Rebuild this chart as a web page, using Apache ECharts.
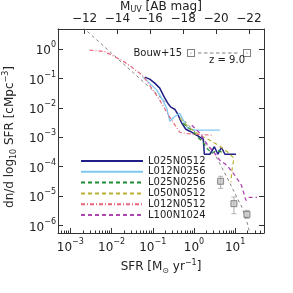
<!DOCTYPE html>
<html><head><meta charset="utf-8">
<script src="https://cdn.jsdelivr.net/npm/echarts@6/dist/echarts.min.js"></script>
<style>html,body{margin:0;padding:0;background:#fff}#c{width:293px;height:293px}</style>
</head><body><div id="c"></div>
<script>
// ---- axis ranges / ticks (log10 units) ----
const xRange = [-3.3, 1.7];          // log10 SFR
const yRange = [-6.256, 0.683];      // log10 dn/dlogSFR
const muvRange = [-22.915, -10.384]; // M_UV (top axis)
const xTickExps = [-3, -2, -1, 0, 1];
const yTickExps = [-6, -5, -4, -3, -2, -1, 0];
const muvTicks = [-12, -14, -16, -18, -20, -22];

// ---- simulation curves: log10 SFR and log10 dn/dlog10SFR ----
const L025N0512_x = [-1.195,-1.074,-0.952,-0.830,-0.733,-0.636,-0.563,-0.466,-0.393,-0.296,-0.198,-0.101,0.021,0.143,0.228,0.252,0.386,0.496,0.581,0.666,0.751,1.019];
const L025N0512_y = [-0.954,-1.022,-1.158,-1.329,-1.601,-1.840,-1.976,-2.044,-2.215,-2.521,-2.726,-2.794,-2.896,-2.998,-3.066,-3.577,-3.577,-3.322,-3.577,-3.339,-3.577,-3.577];

const L012N0256_x = [-1.244,-1.074,-0.903,-0.757,-0.660,-0.587,-0.490,-0.344,-0.247,-0.149,0.020,0.629];
const L012N0256_y = [-0.954,-1.158,-1.397,-1.738,-2.010,-2.453,-2.317,-2.181,-2.453,-2.692,-2.760,-2.760];

const L025N0256_x = [-0.271,-0.149,-0.027,0.094,0.216,0.313,0.435,0.557,0.679];
const L025N0256_y = [-2.521,-2.658,-2.794,-2.998,-3.169,-3.373,-3.543,-3.441,-3.509];

const L050N0512_x = [-0.344,-0.101,0.143,0.386,0.630,0.824,0.970,0.922,0.897];
const L050N0512_y = [-2.351,-2.692,-2.930,-3.100,-3.305,-3.509,-3.714,-4.123,-4.532];

const L012N0512_x = [-2.534,-2.169,-1.925,-1.682,-1.512,-1.317,-1.195,-1.025,-0.830,-0.587,-0.441,-0.344,-0.150,0.435];
const L012N0512_y = [-0.034,-0.085,-0.256,-0.443,-0.613,-0.818,-0.988,-1.329,-1.738,-2.317,-2.624,-2.828,-2.880,-2.930];

const L100N1024_x = [-0.052,0.143,0.337,0.483,0.630,0.800,0.994,1.153,1.226,1.262,1.335,1.530];
const L100N1024_y = [-2.590,-2.862,-3.271,-3.509,-3.782,-3.952,-4.293,-4.634,-4.975,-5.145,-5.043,-5.043];

// ---- Bouwens+15 fit (grey dashed) and data points ----
const bouwFit_x = [-2.8,-2.5,-2.0,-1.5,-1.0,-0.5,0.0,0.3,0.5,0.8,1.0,1.17,1.29,1.4];
const bouwFit_y = [0.87,0.49,-0.14,-0.77,-1.40,-2.05,-2.78,-3.25,-3.55,-4.36,-4.92,-5.40,-5.90,-6.5];
const bouwPts_x = [0.647, 0.970, 1.286];
const bouwPts_y = [-4.497, -5.258, -5.622];
const bouwPts_lo = [-4.736, -5.598, -5.758];
const bouwPts_hi = [-4.327, -5.032, -5.485];

const names = ['L025N0512','L012N0256','L025N0256','L050N0512','L012N0512','L100N1024'];
const colors = ['#1f1f85','#80c8f0','#1e8c32','#b8b032','#e86478','#b044b0'];
const dashes = ['solid','solid',[4,3],[4,3],[4,2,1,2],[4,3]];
const widths = [1.5,1.3,1.2,1.2,1.2,1.3];
const curves = [
  [L025N0512_x, L025N0512_y],[L012N0256_x, L012N0256_y],[L025N0256_x, L025N0256_y],
  [L050N0512_x, L050N0512_y],[L012N0512_x, L012N0512_y],[L100N1024_x, L100N1024_y]
];

const FONT = 'DejaVu Sans';
const TXT = '#222';
const pair = (xs, ys) => xs.map((x, i) => [x, ys[i]]);
const expStr = v => (v < 0 ? '\u2212' + (-v) : '' + v);
const pow10 = v => '{b|10}{s|' + expStr(v) + '}';
const richPow = {
  b: {fontFamily: FONT, fontSize: 12, color: TXT, lineHeight: 16, verticalAlign: 'bottom'},
  s: {fontFamily: FONT, fontSize: 8, color: TXT, lineHeight: 16, verticalAlign: 'top'}
};
const minorX = [];
for (let n = -4; n <= 1; n++) for (let k = 2; k <= 9; k++) {
  const v = n + Math.log10(k);
  if (v > xRange[0] && v < xRange[1]) minorX.push(v);
}

const axisLineStyle = {color: '#333', width: 1};
const series = [];
series.push({
  name: 'Bouw+15', type: 'line', data: pair(bouwFit_x, bouwFit_y), symbol: 'none',
  lineStyle: {color: '#808080', width: 1, type: [3, 3]}, z: 1, silent: true
});
curves.forEach((c, i) => series.push({
  name: names[i], type: 'line', data: pair(c[0], c[1]), symbol: 'none', symbolSize: 0,
  lineStyle: {color: colors[i], width: widths[i], type: dashes[i]}, z: 2 + i
}));
series.push({
  name: 'Bouw+15', type: 'custom', z: 10,
  data: bouwPts_x.map((x, i) => [x, bouwPts_lo[i], bouwPts_hi[i]]),
  renderItem: (params, api) => {
    const a = api.coord([api.value(0), api.value(1)]);
    const b = api.coord([api.value(0), api.value(2)]);
    const st = {stroke: '#b0b0b0', lineWidth: 1};
    return {type: 'group', children: [
      {type: 'line', shape: {x1: a[0], y1: a[1], x2: b[0], y2: b[1]}, style: st},
      {type: 'line', shape: {x1: a[0]-2.5, y1: a[1], x2: a[0]+2.5, y2: a[1]}, style: st},
      {type: 'line', shape: {x1: b[0]-2.5, y1: b[1], x2: b[0]+2.5, y2: b[1]}, style: st}
    ]};
  }
});
series.push({
  name: 'Bouw+15', type: 'scatter', data: pair(bouwPts_x, bouwPts_y), symbol: 'rect', symbolSize: 6,
  itemStyle: {color: '#c4c4c4', borderColor: '#707070', borderWidth: 1}, z: 11
});

const bouwIcon = 'path://M0,0H8V8H0Z M1,1V7H7V1Z M3.5,3.5H4.5V4.5H3.5Z ' +
  'M11,3.5H14.5V4.5H11Z M17,3.5H20.5V4.5H17Z M23,3.5H26.5V4.5H23Z M29,3.5H32.5V4.5H29Z ' +
  'M35,3.5H38.5V4.5H35Z M41,3.5H44.5V4.5H41Z M47,3.5H50.5V4.5H47Z ' +
  'M56,0H64V8H56Z M57,1V7H63V1Z M59.5,3.5H60.5V4.5H59.5Z';

const option = {
  animation: false,
  backgroundColor: '#fff',
  textStyle: {fontFamily: FONT},
  grid: {left: 58, right: 29, top: 29, bottom: 60, containLabel: false, outerBoundsMode: 'none'},
  title: {text: 'z = 9.0', right: 43, top: 50,
    textStyle: {fontFamily: FONT, fontSize: 10, fontWeight: 'normal', color: TXT}},
  legend: [
    {data: names, orient: 'vertical', left: 75, top: 151, itemWidth: 62, itemHeight: 8, itemGap: 0.8,
     selectedMode: false, itemStyle: {opacity: 0, borderWidth: 0},
     textStyle: {fontFamily: FONT, fontSize: 10, color: TXT, lineHeight: 10}},
    {data: [{name: 'Bouw+15', icon: bouwIcon}], align: 'right', right: 37, top: 43, itemWidth: 64, itemHeight: 8,
     selectedMode: false, itemStyle: {color: '#808080', borderWidth: 0},
     textStyle: {fontFamily: FONT, fontSize: 10, color: TXT}}
  ],
  xAxis: [
    {type: 'value', position: 'bottom', min: xRange[0], max: xRange[1],
     axisLine: {show: true, onZero: false, lineStyle: axisLineStyle}, splitLine: {show: false},
     axisTick: {show: true, inside: true, length: 5, customValues: xTickExps, lineStyle: axisLineStyle},
     axisLabel: {show: true, margin: 5, customValues: xTickExps, formatter: pow10, rich: richPow},
     name: 'SFR [M{sub|\u2299} yr{sup|\u22121}]', nameLocation: 'middle', nameGap: 26, nameMoveOverlap: false,
     nameTextStyle: {fontFamily: FONT, fontSize: 12, color: TXT, rich: {
        sub: {fontSize: 8, verticalAlign: 'bottom', lineHeight: 16, fontFamily: FONT, color: TXT},
        sup: {fontSize: 8, verticalAlign: 'top', lineHeight: 16, fontFamily: FONT, color: TXT}}}},
    {type: 'value', position: 'bottom', min: xRange[0], max: xRange[1],
     axisLine: {show: false, onZero: false}, splitLine: {show: false}, axisLabel: {show: false},
     axisTick: {show: true, inside: true, length: 2.5, customValues: minorX, lineStyle: axisLineStyle}},
    {type: 'value', position: 'top', min: muvRange[0], max: muvRange[1], inverse: true,
     axisLine: {show: true, onZero: false, lineStyle: axisLineStyle}, splitLine: {show: false},
     axisTick: {show: true, inside: true, length: 5, customValues: muvTicks, lineStyle: axisLineStyle},
     axisLabel: {show: true, margin: 4, customValues: muvTicks, formatter: v => expStr(v),
       fontFamily: FONT, fontSize: 12, color: TXT},
     name: 'M{sub|UV} [AB mag]', nameLocation: 'middle', nameGap: 15, nameMoveOverlap: false,
     nameTextStyle: {fontFamily: FONT, fontSize: 12, color: TXT, rich: {
        sub: {fontSize: 8, verticalAlign: 'bottom', lineHeight: 14, fontFamily: FONT, color: TXT}}}}
  ],
  yAxis: [
    {type: 'value', position: 'left', min: yRange[0], max: yRange[1],
     axisLine: {show: true, onZero: false, lineStyle: axisLineStyle}, splitLine: {show: false},
     axisTick: {show: true, inside: true, length: 5, customValues: yTickExps, lineStyle: axisLineStyle},
     axisLabel: {show: true, margin: 2, customValues: yTickExps, formatter: pow10, rich: richPow},
     name: 'dn/d log{sub|10} SFR [cMpc{sup|\u22123}]', nameLocation: 'middle', nameGap: 40, nameRotate: 90,
     nameMoveOverlap: false,
     nameTextStyle: {fontFamily: FONT, fontSize: 12, color: TXT, padding: [0, 12, 0, 0], rich: {
        sub: {fontSize: 8, verticalAlign: 'bottom', lineHeight: 16, fontFamily: FONT, color: TXT},
        sup: {fontSize: 8, verticalAlign: 'top', lineHeight: 16, fontFamily: FONT, color: TXT}}}},
    {type: 'value', position: 'right', min: yRange[0], max: yRange[1],
     axisLine: {show: true, onZero: false, lineStyle: axisLineStyle}, splitLine: {show: false},
     axisTick: {show: true, inside: true, length: 5, customValues: yTickExps, lineStyle: axisLineStyle},
     axisLabel: {show: false}}
  ],
  series: series
};
const chart = echarts.init(document.getElementById('c'), null, {renderer: 'canvas'});
chart.setOption(option);
</script></body></html>
